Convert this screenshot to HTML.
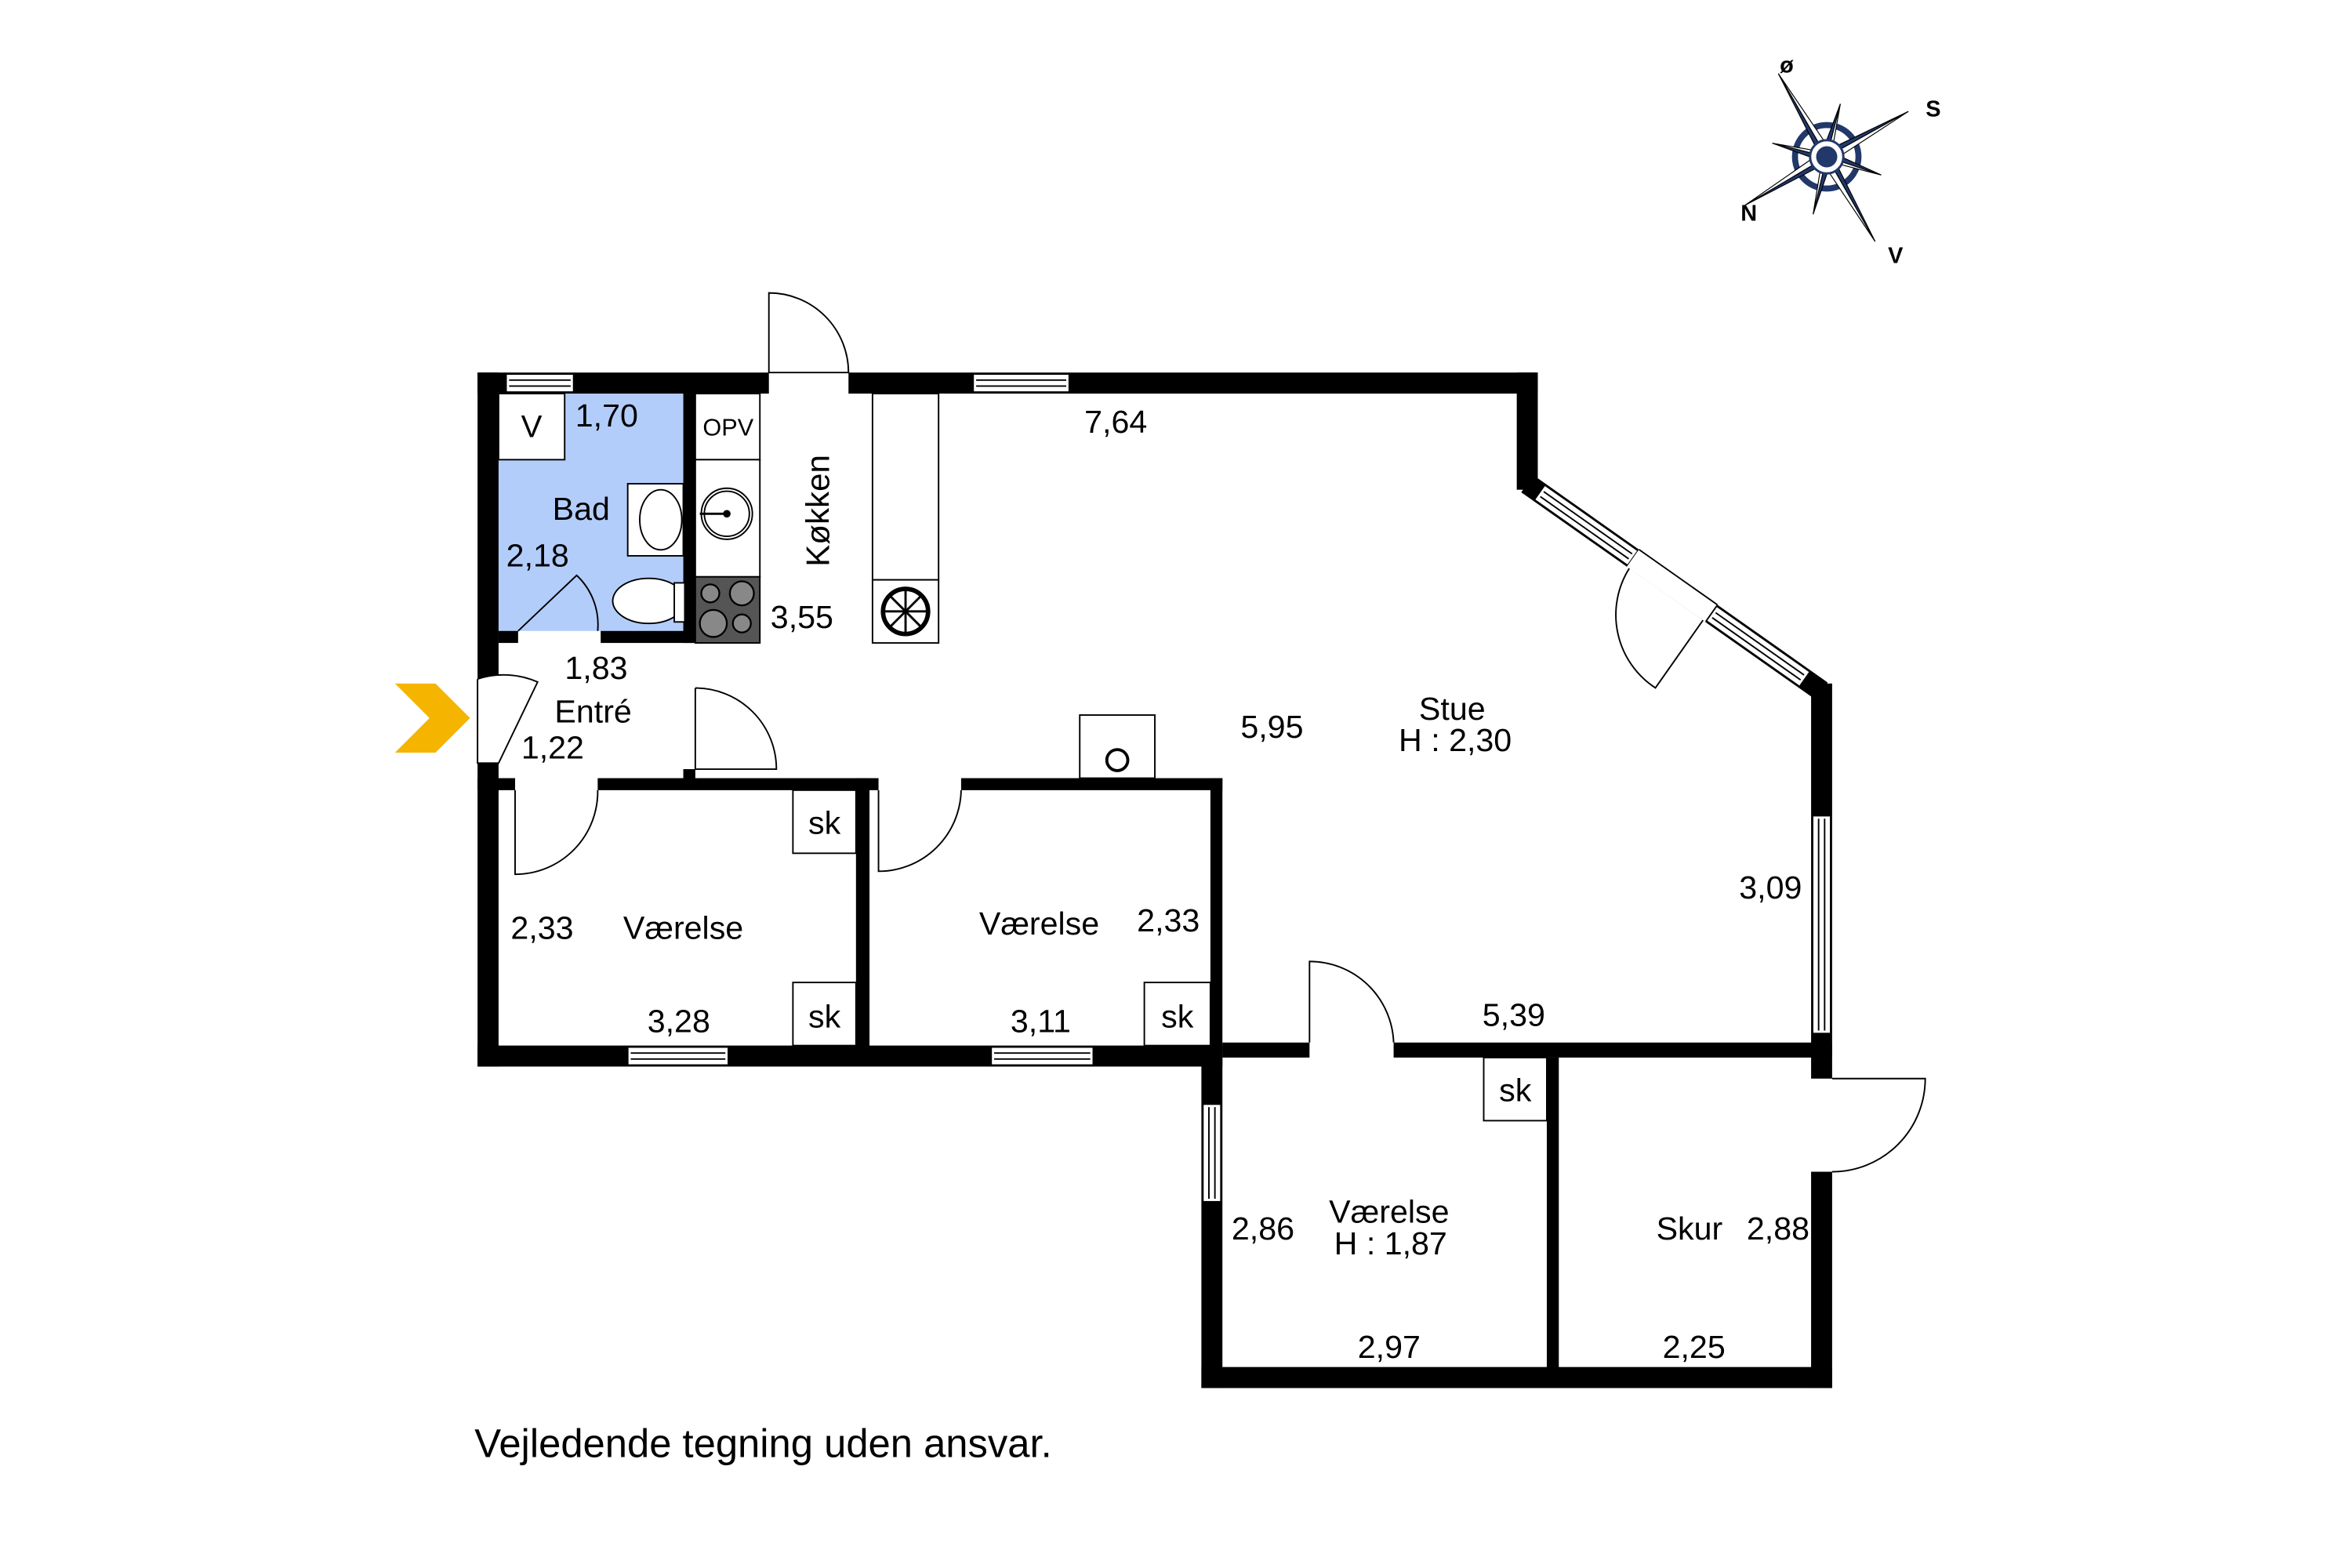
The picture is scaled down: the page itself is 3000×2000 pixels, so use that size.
<!DOCTYPE html>
<html><head><meta charset="utf-8"><style>html,body{margin:0;padding:0;background:#fff}svg{display:block}text{font-family:"Liberation Sans",sans-serif;fill:#000}</style></head><body>
<svg width="3000" height="2000" viewBox="0 0 1556 1037" preserveAspectRatio="none" xmlns="http://www.w3.org/2000/svg">
<rect width="1556" height="1037" fill="#fff"/>
<g transform="scale(0.9935)">
<rect x="332" y="262" width="123" height="158" fill="#b3cdfb"/>
<rect x="332" y="262" width="44" height="44" fill="#fff" stroke="#000" stroke-width="1"/>
<text x="354" y="291" font-size="21" text-anchor="middle">V</text>
<g fill="#000">
<rect x="318" y="248" width="194" height="14"/>
<rect x="565" y="248" width="459" height="14"/>
<rect x="318" y="248" width="14" height="204"/>
<rect x="318" y="508" width="14" height="202"/>
<rect x="1010" y="248" width="14" height="78"/>
<rect x="1206" y="455" width="14" height="263"/>
<rect x="1206" y="780" width="14" height="144"/>
<rect x="318" y="696" width="496" height="14"/>
<rect x="814" y="694" width="58" height="10"/>
<rect x="928" y="694" width="292" height="10"/>
<rect x="800" y="696" width="14" height="228"/>
<rect x="800" y="910" width="420" height="14"/>
<rect x="1030" y="704" width="8" height="210"/>
<rect x="455" y="262" width="8" height="166"/>
<rect x="332" y="420" width="13" height="8"/>
<rect x="400" y="420" width="63" height="8"/>
<rect x="318" y="518" width="25" height="8"/>
<rect x="398" y="518" width="187" height="8"/>
<rect x="640" y="518" width="174" height="8"/>
<rect x="455" y="512" width="8" height="10"/>
<rect x="570" y="518" width="9" height="182"/>
<rect x="806" y="518" width="8" height="182"/>
</g>
<polyline points="1017,322 1213,460" stroke="#000" stroke-width="14" fill="none"/>
<g transform="translate(1017,322) rotate(35.15)">
<rect x="10" y="-6" width="76" height="12" fill="#fff" stroke="#000" stroke-width="1"/>
<line x1="12" y1="-2" x2="84" y2="-2" stroke="#000"/><line x1="12" y1="2" x2="84" y2="2" stroke="#000"/>
<rect x="86" y="-7" width="64" height="14" fill="#fff"/>
<line x1="86" y1="-7" x2="150" y2="-7" stroke="#000"/>
<rect x="150" y="-6" width="76" height="12" fill="#fff" stroke="#000" stroke-width="1"/>
<line x1="152" y1="-2" x2="224" y2="-2" stroke="#000"/><line x1="152" y1="2" x2="224" y2="2" stroke="#000"/>
<path d="M148,7 L148,62 A58,58 0 0 1 88,7" fill="#fff" stroke="#000" stroke-width="1"/>
</g>
<g fill="#fff" stroke="#000" stroke-width="1">
<rect x="337" y="249" width="45" height="12"/><line x1="339" y1="253" x2="380" y2="253"/><line x1="339" y1="257" x2="380" y2="257"/>
<rect x="648" y="249" width="64" height="12"/><line x1="650" y1="253" x2="710" y2="253"/><line x1="650" y1="257" x2="710" y2="257"/>
<rect x="418" y="697" width="67" height="12"/><line x1="420" y1="701" x2="483" y2="701"/><line x1="420" y1="705" x2="483" y2="705"/>
<rect x="660" y="697" width="68" height="12"/><line x1="662" y1="701" x2="726" y2="701"/><line x1="662" y1="705" x2="726" y2="705"/>
<rect x="1207" y="543" width="12" height="145"/><line x1="1211" y1="545" x2="1211" y2="686"/><line x1="1215" y1="545" x2="1215" y2="686"/>
<rect x="801" y="735" width="12" height="65"/><line x1="805" y1="737" x2="805" y2="798"/><line x1="809" y1="737" x2="809" y2="798"/>
</g>
<g fill="#fff" stroke="#000" stroke-width="1">
<path d="M512,248 L512,195 A53,53 0 0 1 565,248 Z"/>
<path d="M318,452 L318,508 L332,508 L358,454 A56,56 0 0 0 318,452"/>
<path d="M463,458 L463,512 L517,512 A54,54 0 0 0 463,458"/>
<path d="M343,526 L343,582 A55,55 0 0 0 398,526"/>
<path d="M585,526 L585,580 A55,55 0 0 0 640,526"/>
<path d="M872,694 L872,640 A56,56 0 0 1 928,694"/>
<path d="M1220,718 L1282,718 A62,62 0 0 1 1220,780"/>
</g>
<path d="M345,420 L384,383 A45,45 0 0 1 398,420" fill="none" stroke="#000"/>
<g fill="#fff" stroke="#000" stroke-width="1">
<rect x="463" y="262" width="43" height="44"/>
<rect x="463" y="306" width="43" height="78"/>
<circle cx="484" cy="342" r="17"/><circle cx="484" cy="342" r="15"/>
<rect x="581" y="262" width="44" height="124"/>
<rect x="581" y="386" width="44" height="42"/>
<circle cx="603" cy="407" r="15" stroke-width="3"/>
<rect x="418" y="322" width="37" height="48"/>
<ellipse cx="440" cy="346" rx="14" ry="20"/>
<ellipse cx="432" cy="400" rx="24" ry="15"/>
<rect x="449" y="388" width="7" height="26"/>
<rect x="719" y="476" width="50" height="42"/>
<circle cx="744" cy="506" r="7" stroke-width="2"/>
<rect x="528" y="526" width="42" height="42"/>
<rect x="528" y="654" width="42" height="42"/>
<rect x="762" y="654" width="44" height="42"/>
<rect x="988" y="704" width="42" height="42"/>
</g>
<g stroke="#000" stroke-width="1.5">
<line x1="603" y1="392" x2="603" y2="422"/><line x1="588" y1="407" x2="618" y2="407"/><line x1="592" y1="396" x2="614" y2="418"/><line x1="614" y1="396" x2="592" y2="418"/>
<line x1="466" y1="342" x2="484" y2="342"/>
</g>
<circle cx="484" cy="342" r="2.5"/>
<rect x="463" y="384" width="43" height="44" fill="#555" stroke="#000"/>
<g fill="#888" stroke="#000" stroke-width="1.2">
<circle cx="473" cy="395" r="6"/><circle cx="494" cy="395" r="8"/><circle cx="475" cy="415" r="9"/><circle cx="494" cy="415" r="6"/>
</g>
<polygon points="263,455 290,455 313,478 290,501 263,501 286,478" fill="#f5b400"/>
<g font-size="21.5">
<text x="404" y="284" text-anchor="middle">1,70</text>
<text x="468" y="290" font-size="16">OPV</text>
<text x="387" y="346" text-anchor="middle">Bad</text>
<text x="358" y="377" text-anchor="middle">2,18</text>
<text x="534" y="418" text-anchor="middle">3,55</text>
<text x="552" y="340" text-anchor="middle" transform="rotate(-90 552 340)" font-size="22">Køkken</text>
<text x="743" y="288" text-anchor="middle">7,64</text>
<text x="397" y="452" text-anchor="middle">1,83</text>
<text x="395" y="481" text-anchor="middle">Entré</text>
<text x="368" y="505" text-anchor="middle">1,22</text>
<text x="847" y="491" text-anchor="middle">5,95</text>
<text x="967" y="479" text-anchor="middle">Stue</text>
<text x="969" y="500" text-anchor="middle">H : 2,30</text>
<text x="1179" y="598" text-anchor="middle">3,09</text>
<text x="549" y="555" text-anchor="middle">sk</text>
<text x="549" y="684" text-anchor="middle">sk</text>
<text x="784" y="684" text-anchor="middle">sk</text>
<text x="1009" y="733" text-anchor="middle">sk</text>
<text x="361" y="625" text-anchor="middle">2,33</text>
<text x="455" y="625" text-anchor="middle">Værelse</text>
<text x="452" y="687" text-anchor="middle">3,28</text>
<text x="692" y="622" text-anchor="middle">Værelse</text>
<text x="778" y="620" text-anchor="middle">2,33</text>
<text x="693" y="687" text-anchor="middle">3,11</text>
<text x="1008" y="683" text-anchor="middle">5,39</text>
<text x="841" y="825" text-anchor="middle">2,86</text>
<text x="925" y="814" text-anchor="middle">Værelse</text>
<text x="926" y="835" text-anchor="middle">H : 1,87</text>
<text x="925" y="904" text-anchor="middle">2,97</text>
<text x="1125" y="825" text-anchor="middle">Skur</text>
<text x="1184" y="825" text-anchor="middle">2,88</text>
<text x="1128" y="904" text-anchor="middle">2,25</text>
<text x="316" y="970" font-size="26.5">Vejledende tegning uden ansvar.</text>
</g>
</g>
<g transform="translate(1208.5,103.7)">
<circle r="21" fill="none" stroke="#22386a" stroke-width="4"/>
<g stroke="#000" stroke-width="0.6">
<polygon points="-32,-55 -5,-2 0,0" fill="#22386a"/><polygon points="-32,-55 2,-5 0,0" fill="#fff"/>
<polygon points="54,-30 2,-5 0,0" fill="#22386a"/><polygon points="54,-30 5,2 0,0" fill="#fff"/>
<polygon points="32,56 5,2 0,0" fill="#22386a"/><polygon points="32,56 -2,5 0,0" fill="#fff"/>
<polygon points="-54,32 -2,5 0,0" fill="#22386a"/><polygon points="-54,32 -5,-2 0,0" fill="#fff"/>
<polygon points="9,-35 -3,-3 0,0" fill="#22386a"/><polygon points="9,-35 3,-1 0,0" fill="#fff"/>
<polygon points="36,12 3,-3 0,0" fill="#22386a"/><polygon points="36,12 1,3 0,0" fill="#fff"/>
<polygon points="-9,38 3,3 0,0" fill="#22386a"/><polygon points="-9,38 -3,1 0,0" fill="#fff"/>
<polygon points="-36,-9 -3,3 0,0" fill="#22386a"/><polygon points="-36,-9 -1,-3 0,0" fill="#fff"/>
</g>
<circle r="11" fill="#fff" stroke="#22386a" stroke-width="1.5"/>
<circle r="7" fill="#22386a"/>
</g>
<g font-size="15" font-weight="bold" text-anchor="middle">
<text x="1182" y="48">ø</text><text x="1279" y="77">S</text><text x="1157" y="146">N</text><text x="1254" y="174">V</text>
</g>
</svg>
</body></html>
